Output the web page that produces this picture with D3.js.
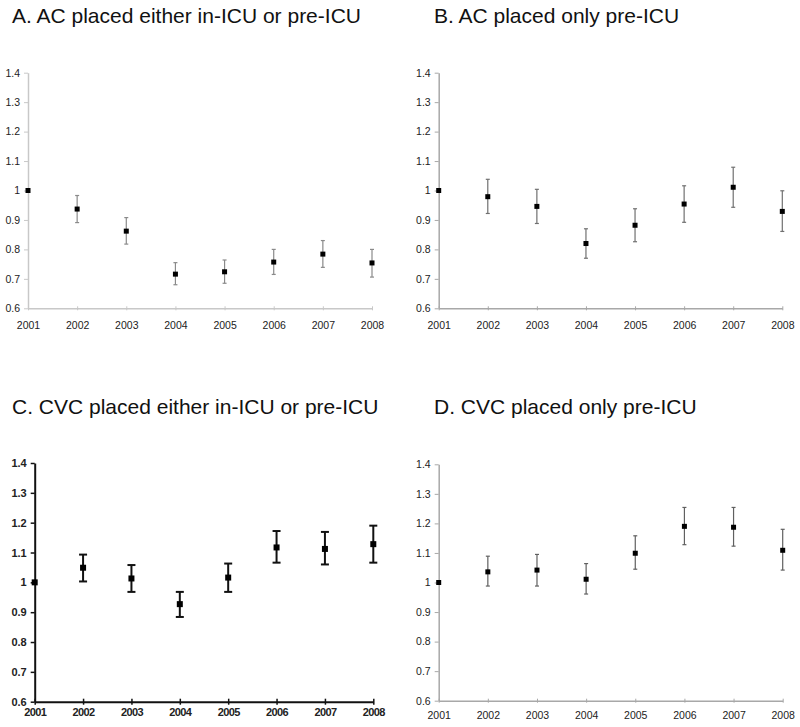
<!DOCTYPE html>
<html><head><meta charset="utf-8">
<script src="https://cdn.jsdelivr.net/npm/d3@7"></script>
<style>body{margin:0;background:#fff}svg{display:block}</style>
</head><body>
<script>
const years = ["2001","2002","2003","2004","2005","2006","2007","2008"];
const yTicks = [0.6,0.7,0.8,0.9,1,1.1,1.2,1.3,1.4];
const titles = ["A. AC placed either in-ICU or pre-ICU","B. AC placed only pre-ICU","C. CVC placed either in-ICU or pre-ICU","D. CVC placed only pre-ICU"];

const aMid  = [1.000,0.937,0.862,0.716,0.724,0.757,0.784,0.754];
const aLow  = [1.000,0.891,0.818,0.680,0.685,0.715,0.739,0.706];
const aHigh = [1.000,0.983,0.908,0.755,0.764,0.800,0.830,0.800];

const bMid  = [1.000,0.979,0.946,0.820,0.882,0.954,1.011,0.929];
const bLow  = [1.000,0.922,0.888,0.770,0.826,0.892,0.943,0.861];
const bHigh = [1.000,1.038,1.004,0.870,0.938,1.016,1.079,0.999];

const cMid  = [1.000,1.049,1.013,0.927,1.016,1.117,1.112,1.128];
const cLow  = [1.000,1.003,0.968,0.884,0.968,1.066,1.060,1.066];
const cHigh = [1.000,1.093,1.058,0.968,1.063,1.172,1.169,1.190];

const dMid  = [1.000,1.036,1.042,1.011,1.099,1.190,1.187,1.109];
const dLow  = [1.000,0.988,0.988,0.961,1.045,1.128,1.123,1.042];
const dHigh = [1.000,1.089,1.095,1.064,1.158,1.254,1.254,1.180];

const svg = d3.select("body").append("svg").attr("width",800).attr("height",727)
  .style("font-family","'Liberation Sans', Arial, sans-serif");

const panels = [
  {title:titles[0], tx:12,  ty:23,  x0:28,    x1:372,   yTop:72.7, yBot:308.3, mid:aMid, low:aLow, high:aHigh, bold:false, axis:"#c8c8c8", bar:"#8a8a8a", bw:1.2, cap:2, sq:5, ly:13},
  {title:titles[1], tx:434, ty:23,  x0:438.7, x1:782.3, yTop:72.7, yBot:308.3, mid:bMid, low:bLow, high:bHigh, bold:false, axis:"#a8a8a8", bar:"#707070", bw:1.2, cap:2, sq:5, ly:13},
  {title:titles[2], tx:12,  ty:414, x0:34.7,  x1:373.3, yTop:463,  yBot:701.7, mid:cMid, low:cLow, high:cHigh, bold:true,  axis:"#111", bar:"#111", bw:2, cap:4, sq:6, ly:7},
  {title:titles[3], tx:434, ty:414, x0:438.7, x1:782.7, yTop:464.3,yBot:700.7, mid:dMid, low:dLow, high:dHigh, bold:false, axis:"#a8a8a8", bar:"#606060", bw:1.2, cap:2, sq:5, ly:11}
];

panels.forEach(p => {
  const g = svg.append("g");
  g.append("text").attr("x",p.tx).attr("y",p.ty).attr("font-size",21).attr("fill","#111").text(p.title);

  const x = d3.scalePoint().domain(years).range([p.x0,p.x1]);
  const y = d3.scaleLinear().domain([0.6,1.4]).range([p.yBot,p.yTop]);

  const yAxis = g.append("g").attr("transform",`translate(${p.x0},0)`)
    .call(d3.axisLeft(y).tickValues(yTicks).tickFormat(d=>d3.format("")(+d.toFixed(1))).tickSize(4).tickSizeOuter(0));
  const xAxis = g.append("g").attr("transform",`translate(0,${p.yBot})`)
    .call(d3.axisBottom(x).tickSize(4).tickSizeOuter(0));
  [yAxis,xAxis].forEach(a => {
    a.select(".domain").attr("stroke",p.axis).attr("stroke-width",p.bold?2:1.5);
    a.selectAll(".tick line").attr("stroke",p.axis).attr("stroke-width",p.bold?1.5:1);
    a.selectAll("text").attr("font-size",p.bold?11:10.5).attr("fill","#222")
      .attr("font-weight",p.bold?"bold":"normal")
      .attr("font-family","'Liberation Sans', Arial, sans-serif");
  });
  yAxis.selectAll("text").attr("x",-8);
  xAxis.selectAll(".tick line").attr("y1",p.bold?-3:-2).attr("y2",p.bold?3:2);
  xAxis.selectAll("text").attr("y",p.ly);
  if (p.bold) xAxis.selectAll("text").attr("letter-spacing",-0.6);

  const idx = d3.range(years.length).filter(i => p.high[i] !== p.low[i]);
  const eb = g.append("g");
  eb.selectAll("line.v").data(idx).join("line")
    .attr("x1",i=>x(years[i])).attr("x2",i=>x(years[i]))
    .attr("y1",i=>y(p.high[i])).attr("y2",i=>y(p.low[i]))
    .attr("stroke",p.bar).attr("stroke-width",p.bw);
  ["high","low"].forEach(k => {
    eb.selectAll("line."+k).data(idx).join("line").attr("class",k)
      .attr("x1",i=>x(years[i])-p.cap).attr("x2",i=>x(years[i])+p.cap)
      .attr("y1",i=>y(p[k][i])).attr("y2",i=>y(p[k][i]))
      .attr("stroke",p.bar).attr("stroke-width",p.bw);
  });
  g.selectAll("rect.pt").data(p.mid).join("rect").attr("class","pt")
    .attr("x",(d,i)=>x(years[i])-p.sq/2).attr("y",d=>y(d)-p.sq/2)
    .attr("width",p.sq).attr("height",p.sq).attr("fill","#000");
});
</script>
</body></html>
